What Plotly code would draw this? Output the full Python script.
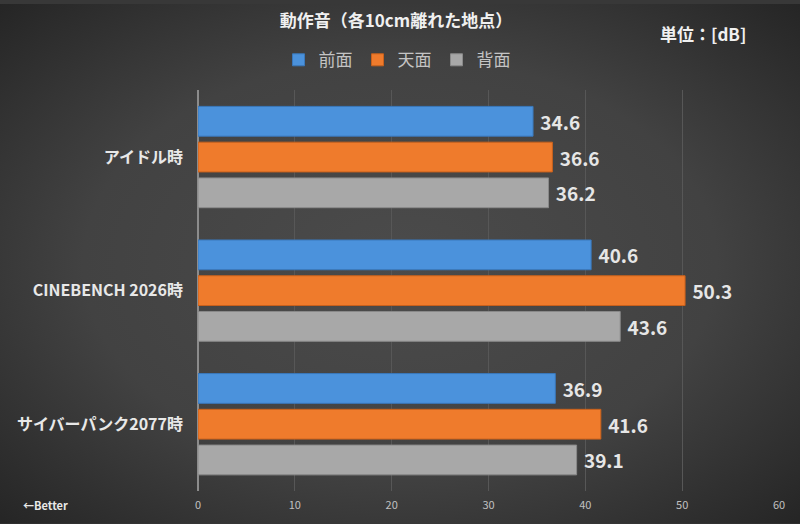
import base64
import plotly.graph_objects as go

categories = ["アイドル時", "CINEBENCH 2026時", "サイバーパンク2077時"]
series_names = ["前面", "天面", "背面"]
front = [34.6, 40.6, 36.9]
top = [36.6, 50.3, 41.6]
back = [36.2, 43.6, 39.1]
x_ticks = [0, 10, 20, 30, 40, 50, 60]

colors = ["#4b92dc", "#ef7b2c", "#a8a8a8"]
lines = ["#3a78bb", "#c9611c", "#8a8a8a"]
FONT = "Noto Sans CJK JP"

W, H = 800, 524
ML, MR, MT, MB = 198, 21, 87, 33
PW, PH = W - ML - MR, H - MT - MB


def px_x(x):
    return (x - ML) / PW


def px_y(y):
    return (H - MB - y) / PH


svg = (
    '<svg xmlns="http://www.w3.org/2000/svg" width="800" height="524">'
    '<defs><radialGradient id="g" cx="0.5" cy="0.5" r="0.72">'
    '<stop offset="0" stop-color="#4b4b4b"/>'
    '<stop offset="0.55" stop-color="#424242"/>'
    '<stop offset="1" stop-color="#242424"/>'
    '</radialGradient></defs>'
    '<rect width="800" height="524" fill="url(#g)"/></svg>'
)
bg_src = "data:image/svg+xml;base64," + base64.b64encode(svg.encode()).decode()

fig = go.Figure()
for name, vals, c, lc in zip(series_names, [front, top, back], colors, lines):
    fig.add_trace(go.Bar(
        y=categories, x=vals, name=name, orientation="h",
        marker=dict(color=c, line=dict(color=lc, width=1)),
        text=["\u00a0" + f"{v:.1f}" for v in vals], textposition="outside",
        textfont=dict(family=FONT, size=19, color="#e6e6e6", weight="bold"),
        cliponaxis=False,
    ))

fig.update_layout(
    width=W, height=H,
    margin=dict(l=ML, r=MR, t=MT, b=MB),
    paper_bgcolor="#383838", plot_bgcolor="rgba(0,0,0,0)",
    barmode="group", bargap=0.197, bargroupgap=0.167,
    font=dict(family=FONT, color="#dddddd"),
    title=dict(text="<b>動作音（各10cm離れた地点）</b>", x=0.495, xanchor="center",
               y=0.96, yanchor="middle",
               font=dict(family=FONT, size=17, color="#f0f0f0")),
    legend=dict(orientation="h", x=px_x(397), xanchor="center", y=0.885, yref="container",
                yanchor="middle", traceorder="normal", itemwidth=30,
                font=dict(family=FONT, size=17, color="#c4c4c4"),
                bgcolor="rgba(0,0,0,0)"),
    showlegend=True,
    xaxis=dict(range=[0, 60], tickvals=x_ticks, showgrid=True, gridcolor="#575757",
               gridwidth=1, zeroline=True, zerolinecolor="#8c8c8c", zerolinewidth=1.5,
               tickfont=dict(family=FONT, size=11, color="#c0c0c0"), showline=False,
               ticks="", ticklabelstandoff=6),
    yaxis=dict(autorange="reversed", showgrid=False, zeroline=False,
               tickfont=dict(family=FONT, size=16, color="#e8e8e8", weight="bold"),
               ticks="", ticklabelstandoff=14),
    images=[dict(source=bg_src, xref="paper", yref="paper",
                 x=px_x(0), y=px_y(0), sizex=W / PW, sizey=H / PH,
                 xanchor="left", yanchor="top", sizing="stretch", layer="below")],
)

fig.add_annotation(text="<b>単位：[dB]</b>", xref="paper", yref="paper",
                   x=px_x(703), y=px_y(30),
                   showarrow=False, font=dict(family=FONT, size=17, color="#f0f0f0"),
                   xanchor="center", yanchor="middle")
fig.add_annotation(text="<b>←Better</b>", xref="paper", yref="paper",
                   x=px_x(45), y=px_y(505),
                   showarrow=False, font=dict(family=FONT, size=11, color="#e8e8e8"),
                   xanchor="center", yanchor="middle")

fig.write_html("out.html")
